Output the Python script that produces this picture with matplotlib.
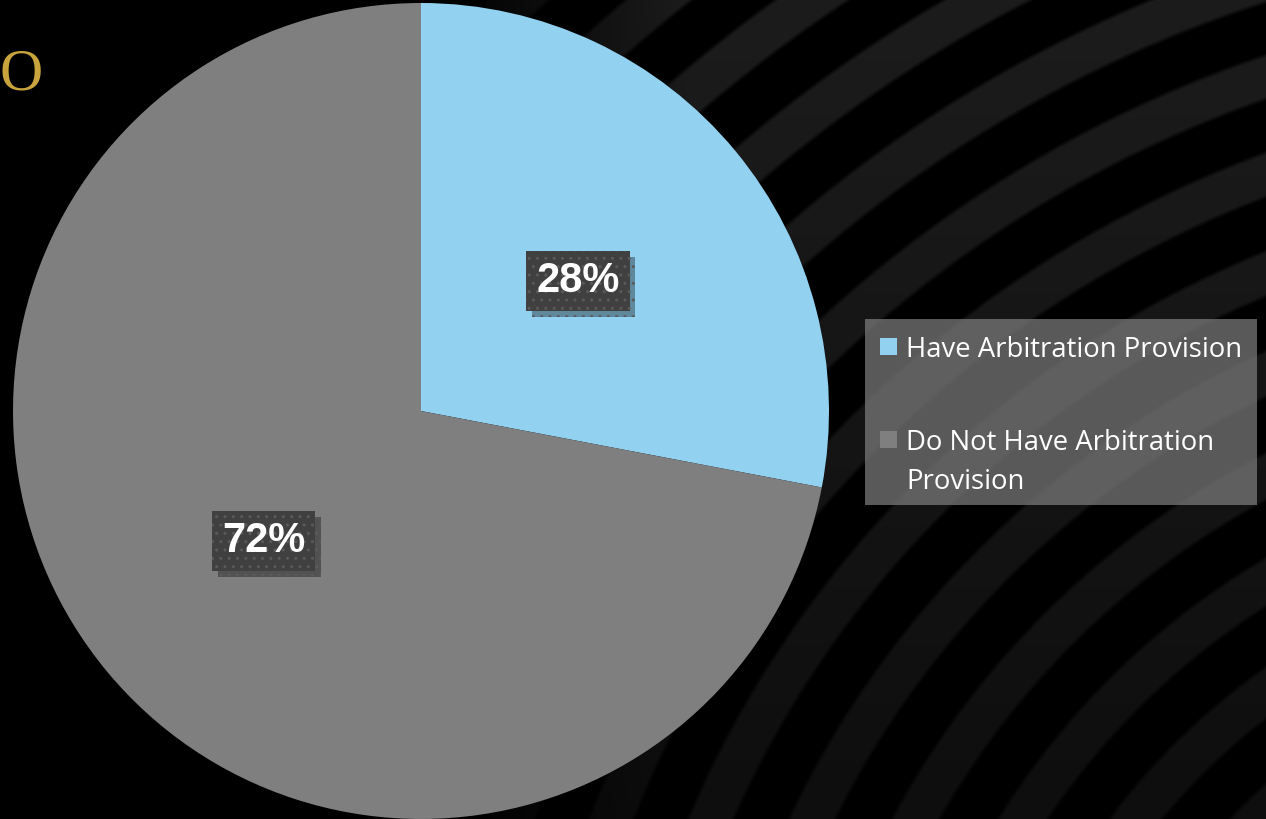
import numpy as np
import matplotlib.pyplot as plt
import matplotlib.patheffects as pe
from matplotlib.patches import Rectangle

# --- data ---
categories = ['Have Arbitration Provision', 'Do Not Have Arbitration\nProvision']
shares = [28, 72]
colors = ['#92D1F0', '#7F7F7F']

W, H = 1266, 819
fig = plt.figure(figsize=(W / 100, H / 100), dpi=100)
fig.patch.set_facecolor('black')

# background layer in pixel coordinates (y grows downward)
bg = fig.add_axes([0, 0, 1, 1])
bg.set_xlim(0, W)
bg.set_ylim(H, 0)
bg.axis('off')

# curved dark stripes sweeping in from the lower right
yy, xx = np.mgrid[0:H, 0:W].astype(float)
dist = np.hypot(xx - 1660, yy - 1230)
phase = (dist / 92.0) % 1.0
band = np.clip(np.minimum(phase, 0.5 - phase) / 0.05, 0, 1)
fade = np.clip((xx - 430) / 260, 0, 1) * (0.5 + 0.5 * (1 - yy / H))
level = band * fade * 28 / 255
bg.imshow(np.dstack([level, level, level * 1.03]).clip(0, 1),
          extent=(0, W, H, 0), interpolation='bilinear', zorder=0)

# title fragment at the top left
bg.text(0, 89, 'O', color='#C9A43C', fontsize=43, family='Liberation Serif',
        ha='left', va='baseline', zorder=1)

# --- pie ---
cx, cy, r = 421, 411, 408
pie_ax = fig.add_axes([(cx - r) / W, (H - cy - r) / H, 2 * r / W, 2 * r / H])
pie_ax.axis('off')
wedges, _, autotexts = pie_ax.pie(shares, colors=colors, startangle=90, counterclock=False,
                                  autopct='%d%%', pctdistance=0.5, radius=1,
                                  wedgeprops=dict(linewidth=0))
pie_ax.set_xlim(-1, 1)
pie_ax.set_ylim(-1, 1)

for t in autotexts:
    t.set_color('white')
    t.set_fontsize(30)
    t.set_fontweight('bold')
    t.set_family('Liberation Sans')
    t.set_bbox(dict(boxstyle='square,pad=0.24', facecolor='#404040',
                    edgecolor='#5a5a5a', linewidth=0, hatch='..'))
    t.get_bbox_patch().set_path_effects([
        pe.SimplePatchShadow(offset=(4, -4), shadow_rgbFace='black', alpha=0.35),
        pe.Normal()])

# --- legend panel ---
bg.add_patch(Rectangle((865, 319), 392, 186, facecolor='#808080', alpha=0.7,
                       edgecolor='none', zorder=2))
entry_y = [357, 450]
line_gap = 39
for y, label, c in zip(entry_y, categories, colors):
    bg.add_patch(Rectangle((880, y - 19), 17, 17, facecolor=c, edgecolor='none', zorder=3))
    for i, line in enumerate(label.split('\n')):
        bg.text(906, y + i * line_gap, line, color='white', fontsize=19.8,
                family='Open Sans', ha='left', va='baseline', zorder=3)

fig.savefig('out.png', dpi=100, facecolor='black')
